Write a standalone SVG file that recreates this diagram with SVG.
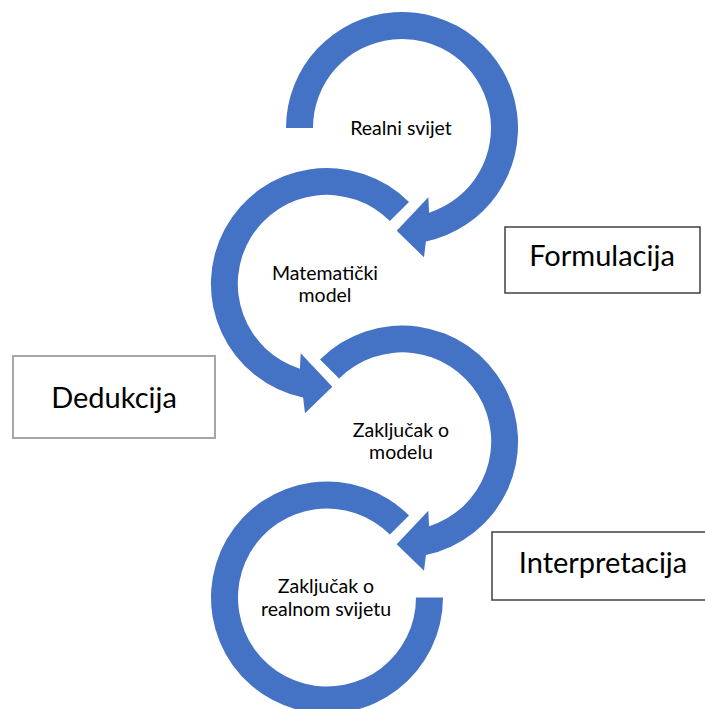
<svg xmlns="http://www.w3.org/2000/svg" width="705" height="709" viewBox="0 0 705 709">
  <defs>
    <style>
      .arrow { fill: #4472C4; stroke: none; }
      .ctext { font-family: Lato, "Liberation Sans", sans-serif; font-size: 19.5px; fill: #000; text-anchor: middle; }
      .ltext { font-family: Lato, "Liberation Sans", sans-serif; font-size: 29px; fill: #000; text-anchor: middle; }
      .box { fill: #fff; stroke: #404040; stroke-width: 1.5; }
      .box-light { fill: #fff; stroke: #A6A6A6; stroke-width: 2; }
    </style>
    <path id="arrowA" d="M -82.0,-82.0 A 116,116 0 1 1 23.9,113.5 L 22,129.3 L -5.3,102.7 L 26.3,69.3 L 27.1,84.7 A 89,89 0 1 0 -62.9,-62.9 Z"/>
  </defs>
  <rect width="705" height="709" fill="#fff"/>
  <g id="connectors">
    <path class="arrow" transform="translate(402,128)" d="M -116,0 A 116,116 0 1 1 23.9,113.5 L 22,129.3 L -5.3,102.7 L 26.3,69.3 L 27.1,84.7 A 89,89 0 1 0 -89,0 Z"/>
    <use href="#arrowA" class="arrow" transform="translate(327,284) scale(-1,1)"/>
    <use href="#arrowA" class="arrow" transform="translate(402,441.5)"/>
    <path class="arrow" transform="translate(327,597.5)" d="M 116,0 A 116,116 0 1 1 82.0,-82.0 L 62.9,-62.9 A 89,89 0 1 0 89,0 Z"/>
  </g>
  <g id="node-realni-svijet">
    <text class="ctext" x="401" y="135">Realni svijet</text>
  </g>
  <g id="node-matematicki-model">
    <text class="ctext" x="325" y="280">Matematički</text>
    <text class="ctext" x="325" y="302">model</text>
  </g>
  <g id="node-zakljucak-model">
    <text class="ctext" x="401" y="437">Zaključak o</text>
    <text class="ctext" x="401" y="459">modelu</text>
  </g>
  <g id="node-zakljucak-svijet">
    <text class="ctext" x="326" y="593">Zaključak o</text>
    <text class="ctext" x="326" y="616">realnom svijetu</text>
  </g>
  <g id="label-formulacija">
    <rect class="box" x="505" y="227" width="195" height="66"/>
    <text class="ltext" x="602" y="266">Formulacija</text>
  </g>
  <g id="label-dedukcija">
    <rect class="box-light" x="13" y="356" width="202" height="82"/>
    <text class="ltext" x="114" y="408">Dedukcija</text>
  </g>
  <g id="label-interpretacija">
    <rect class="box" x="492" y="532" width="230" height="68"/>
    <text class="ltext" x="603" y="573">Interpretacija</text>
  </g>
</svg>
